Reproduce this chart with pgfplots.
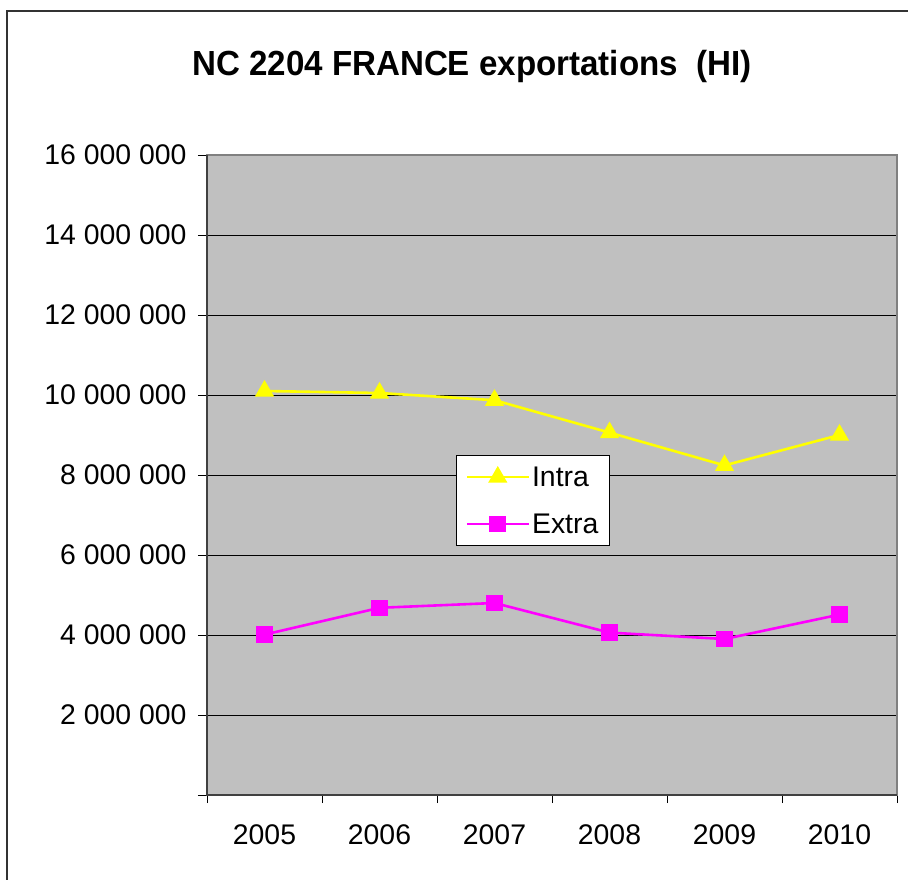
\documentclass[border=0pt]{standalone}
\usepackage{fontspec}
\setmainfont{Liberation Sans}
\newfontfamily\titlefont[FakeStretch=0.95]{Liberation Sans}
\usepackage{pgfplots}
\pgfplotsset{compat=1.18}
\definecolor{plotgray}{HTML}{C0C0C0}
\definecolor{intracol}{HTML}{FFFF00}
\definecolor{extracol}{HTML}{FF00FF}
\begin{document}
\begin{tikzpicture}
\begin{axis}[
  scale only axis, width=690bp, height=640bp,
  xmin=-0.5, xmax=5.5, ymin=0, ymax=16000000,
  axis background/.style={fill=plotgray},
  axis line style={draw=black!50, line width=1.2bp},
  tick align=outside, xtick pos=bottom, ytick pos=left,
  major tick length=9bp, minor tick length=8bp,
  tick style={black, line width=0.8bp},
  xtick={0,1,2,3,4,5},
  xticklabels={2005,2006,2007,2008,2009,2010},
  major x tick style={draw=none},
  minor xtick={-0.5,0.5,1.5,2.5,3.5,4.5,5.5},
  minor x tick style={black, line width=0.8bp},
  ytick={0,2000000,4000000,6000000,8000000,10000000,12000000,14000000,16000000},
  yticklabels={,2 000 000,4 000 000,6 000 000,8 000 000,10 000 000,12 000 000,14 000 000,16 000 000},
  scaled y ticks=false,
  ymajorgrids, major grid style={black, line width=0.8bp},
  ticklabel style={font=\fontsize{28.5}{34}\selectfont},
  xticklabel style={yshift=-17bp},
  yticklabel style={xshift=-8bp},
  legend style={at={(0.361,0.531)}, anchor=north west, draw=black, line width=0.8bp, fill=white,
    font=\fontsize{28.5}{34}\selectfont, inner xsep=9bp, inner ysep=9bp, row sep=22bp,
    /tikz/every even column/.append style={column sep=4bp}},
  legend cell align=left,
  legend image code/.code={\draw[mark repeat=2,mark phase=2] plot coordinates {(0bp,0bp) (31bp,0bp) (62bp,0bp)};},
]
\addplot[color=intracol, line width=2.6bp, mark=triangle*, mark size=8.5bp, mark options={fill=intracol, solid}]
  coordinates {(0,10100000) (1,10050000) (2,9870000) (3,9060000) (4,8240000) (5,9000000)};
\addlegendentry{Intra}
\addplot[color=extracol, line width=2.6bp, mark=square*, mark size=7bp, mark options={fill=extracol, solid}]
  coordinates {(0,4010000) (1,4680000) (2,4800000) (3,4060000) (4,3900000) (5,4510000)};
\addlegendentry{Extra}
\coordinate (bbsw) at (rel axis cs:-0.3,-0.1328);
\coordinate (bbne) at (rel axis cs:1.01594,1.2422);
\coordinate (frA) at (rel axis cs:-0.28986,-0.2);
\coordinate (frB) at (rel axis cs:-0.28986,1.225);
\coordinate (frC) at (rel axis cs:1.1,1.225);
\coordinate (ttl) at (rel axis cs:0.384,1.125);
\coordinate (o0) at (rel axis cs:0,0);
\coordinate (o1) at (rel axis cs:0,1);
\coordinate (o2) at (rel axis cs:1,0);
\end{axis}
\draw[black!75, line width=1.6bp] (o1) -- (o0) -- (o2);
\draw[black!80, line width=1.3bp] (frA) -- (frB) -- (frC);
\node[font=\titlefont\bfseries\fontsize{35}{40}\selectfont, anchor=base] at (ttl) {NC 2204 FRANCE exportations\ \ (HI)};
\pgfresetboundingbox
\useasboundingbox (bbsw) rectangle (bbne);
\end{tikzpicture}
\end{document}
